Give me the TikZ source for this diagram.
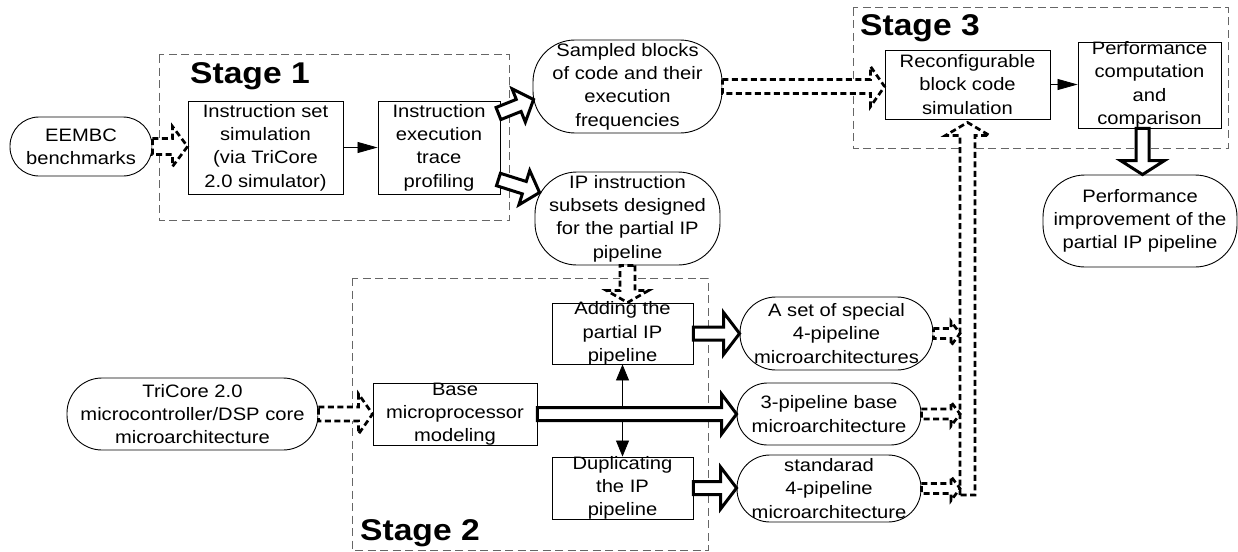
\documentclass[tikz,border=0pt]{standalone}
\usepackage{fontspec}
\setmainfont{Liberation Sans}[FakeStretch=1.12]
\usetikzlibrary{calc,arrows.meta}

% Broad outlined arrow from #2 to #3: shaft half width #4, head half width #5, head length #6
\newcommand\fatarrow[6][]{%
  \coordinate (faS) at (#2);
  \coordinate (faE) at (#3);
  \coordinate (faC) at ($(faE)!#6!(faS)$);
  \draw[#1] ($(faS)!#4!90:(faE)$) -- ($(faC)!#4!90:(faE)$) -- ($(faC)!#5!90:(faE)$) -- (faE)
     -- ($(faC)!#5!-90:(faE)$) -- ($(faC)!#4!-90:(faE)$) -- ($(faS)!#4!-90:(faE)$) -- cycle;
}

\begin{document}
\begin{tikzpicture}[x=1pt,y=-1pt,
  font=\fontsize{18}{23.3}\selectfont,
  txt/.style={align=center, inner sep=0pt},
  box/.style={draw, line width=0.9pt, fill=white, inner sep=0pt},
  pill/.style={box, rounded corners=#1},
  pill/.default=30pt,
  stagebox/.style={draw=black!60, line width=1pt, dash pattern=on 8pt off 4.5pt},
  stagelabel/.style={font=\fontsize{30}{36}\selectfont\bfseries, anchor=base west, inner sep=0pt},
  flow/.style={-{Triangle[length=20pt,width=11pt]}, line width=0.8pt},
  vflow/.style={-{Triangle[length=16pt,width=13pt]}, line width=0.8pt},
  sfat/.style={draw, fill=white, line width=3pt, line join=miter},
  dfat/.style={draw, fill=white, line width=2.7pt, dash pattern=on 6pt off 3.5pt, line join=miter},
]
\useasboundingbox (0,0) rectangle (1238,551);

% stage frames
\draw[stagebox] (159,55) rectangle (509,220);
\draw[stagebox] (853,8) rectangle (1228,148);
\draw[stagebox] (352,278) rectangle (708,550);
\node[stagelabel] (s1) at (190,83) {Stage 1};
\node[stagelabel] (s3) at (860,36) {Stage 3};
\node[stagelabel] (s2) at (360,540) {Stage 2};

% stage 1
\node[pill=29pt, minimum width=142, minimum height=59,
  label={[txt]center:{EEMBC\\benchmarks}}] (eembc) at (81,146.5) {};
\node[box, minimum width=155, minimum height=93,
  label={[txt]center:{Instruction set\\simulation\\(via TriCore\\2.0 simulator)}}] (isim) at (265.5,147.5) {};
\node[box, minimum width=122, minimum height=93,
  label={[txt]center:{Instruction\\execution\\trace\\profiling}}] (trace) at (439,147.5) {};
\node[pill=42pt, minimum width=189, minimum height=93,
  label={[txt]center:{Sampled blocks\\of code and their\\execution\\frequencies}}] (sampled) at (627.5,86.5) {};
\node[pill=42pt, minimum width=185, minimum height=93,
  label={[txt]center:{IP instruction\\subsets designed\\for the partial IP\\pipeline}}] (ipsub) at (627.5,218.5) {};

% stage 3
\node[box, minimum width=165, minimum height=69,
  label={[txt]center:{Reconfigurable\\block code\\simulation}}] (recon) at (967.5,84.5) {};
\node[box, minimum width=143, minimum height=86,
  label={[txt]center:{Performance\\computation\\and\\comparison}}] (perf) at (1149.5,85) {};
\node[pill=42pt, minimum width=194, minimum height=92,
  label={[txt]center:{Performance\\improvement of the\\partial IP pipeline}}] (perfimp) at (1140,221) {};

% stage 2
\node[pill=35pt, minimum width=251, minimum height=72,
  label={[txt]center:{TriCore 2.0\\microcontroller/DSP core\\microarchitecture}}] (tricore) at (192.5,414) {};
\node[box, minimum width=164, minimum height=62,
  label={[txt]center:{Base\\microprocessor\\modeling}}] (base) at (455,414) {};
\node[box, minimum width=141, minimum height=61,
  label={[txt]center:{Adding the\\partial IP\\pipeline}}] (adding) at (622.5,333.5) {};
\node[box, minimum width=141, minimum height=62,
  label={[txt]center:{Duplicating\\the IP\\pipeline}}] (dup) at (622.5,488) {};
\node[pill=36pt, minimum width=193, minimum height=73,
  label={[txt]center:{A set of special\\4-pipeline\\microarchitectures}}] (aset) at (836.5,333.5) {};
\node[pill=30.5pt, minimum width=184, minimum height=62,
  label={[txt]center:{3-pipeline base\\microarchitecture}}] (three) at (829,414) {};
\node[pill=33pt, minimum width=184, minimum height=67,
  label={[txt]center:{standarad\\4-pipeline\\microarchitecture}}] (stdr) at (829,488.5) {};

% feedback rail into the simulator
\coordinate (rail) at (960,495);

% thin flow arrows
\draw[flow] (isim.east) -- (trace.west |- isim.east);
\draw[flow] (recon.east) -- (perf.west |- recon.east);
\draw[vflow] ($(adding.south |- base.east)+(0,-6.5)$) -- (adding.south);
\draw[vflow] ($(dup.north |- base.east)+(0,6.5)$) -- (dup.north);

% broad solid arrows
\fatarrow[sfat]{$(trace.east)+(-2,-34)$}{$(sampled.west)+(1,13)$}{6.5pt}{18pt}{16pt}
\fatarrow[sfat]{$(trace.east)+(-2,32)$}{$(ipsub.west)+(5,-26)$}{6.5pt}{18pt}{16pt}
\fatarrow[sfat]{$(perf.south)+(-7,0)$}{$(perf.south |- perfimp.north)+(-7,0)$}{6.5pt}{22pt}{14pt}
\fatarrow[sfat]{base.east}{three.west}{6.5pt}{20pt}{15pt}
\fatarrow[sfat]{adding.east}{aset.west |- adding.east}{6.5pt}{21pt}{16pt}
\fatarrow[sfat]{dup.east}{stdr.west |- dup.east}{6.5pt}{21pt}{16pt}

% broad dashed arrows
\fatarrow[dfat]{eembc.east}{isim.west |- eembc.east}{8pt}{20pt}{15pt}
\fatarrow[dfat]{sampled.east}{recon.west |- sampled.east}{7pt}{20pt}{14pt}
\fatarrow[dfat]{ipsub.south}{ipsub.south |- adding.north}{7.5pt}{21pt}{12pt}
\fatarrow[dfat]{tricore.east}{base.west}{7pt}{20pt}{14pt}
\fatarrow[dfat]{recon.south |- rail}{$(recon.south)+(0,3)$}{7.5pt}{22pt}{13pt}
\fatarrow[dfat]{aset.east}{aset.east -| rail}{5pt}{12pt}{9pt}
\fatarrow[dfat]{three.east}{three.east -| rail}{5pt}{12pt}{9pt}
\fatarrow[dfat]{stdr.east}{stdr.east -| rail}{5pt}{12pt}{9pt}
\end{tikzpicture}
\end{document}
